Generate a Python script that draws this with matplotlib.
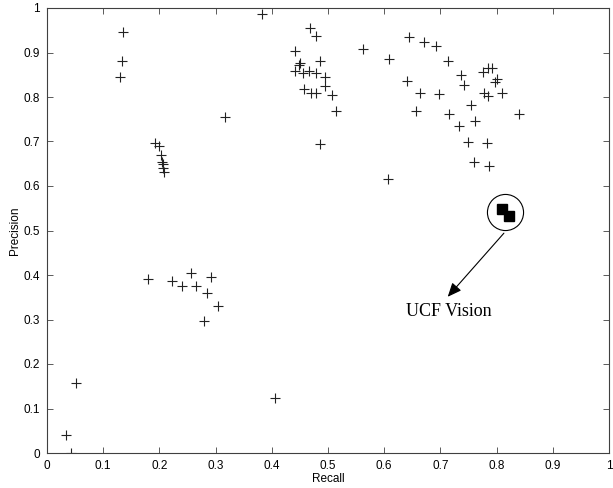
import numpy as np
import matplotlib
matplotlib.use('Agg')
import matplotlib.pyplot as plt
from matplotlib.ticker import FuncFormatter

# ================== データ ==================
# other methods (recall, precision)
recall = [
    0.382, 0.136, 0.134, 0.130, 0.468, 0.478, 0.441, 0.450, 0.448, 0.486,
    0.442, 0.455, 0.467, 0.478, 0.494, 0.494, 0.458, 0.470, 0.479, 0.507,
    0.515, 0.316, 0.486, 0.563, 0.608, 0.644, 0.670, 0.693, 0.713, 0.736,
    0.742, 0.641, 0.663, 0.698, 0.657, 0.716, 0.733, 0.749, 0.776, 0.784,
    0.791, 0.801, 0.798, 0.778, 0.784, 0.809, 0.755, 0.762, 0.840, 0.783,
    0.759, 0.786, 0.606,
    0.192, 0.199, 0.202, 0.205, 0.206, 0.207, 0.209,
    0.257, 0.292, 0.223, 0.241, 0.266, 0.284, 0.305, 0.279, 0.180,
    0.405, 0.051, 0.034, 0.042,
]
precision = [
    0.986, 0.945, 0.881, 0.846, 0.956, 0.937, 0.904, 0.877, 0.872, 0.881,
    0.858, 0.853, 0.858, 0.853, 0.846, 0.825, 0.817, 0.810, 0.810, 0.804,
    0.768, 0.756, 0.694, 0.907, 0.885, 0.934, 0.924, 0.914, 0.882, 0.849,
    0.828, 0.835, 0.808, 0.806, 0.768, 0.762, 0.734, 0.700, 0.857, 0.865,
    0.865, 0.840, 0.834, 0.808, 0.803, 0.808, 0.782, 0.745, 0.761, 0.696,
    0.655, 0.645, 0.615,
    0.697, 0.690, 0.670, 0.655, 0.649, 0.641, 0.632,
    0.404, 0.396, 0.387, 0.375, 0.375, 0.360, 0.330, 0.296, 0.390,
    0.124, 0.158, 0.040, 0.000,
]

# UCF Vision
ucf_recall = [0.809, 0.822]
ucf_precision = [0.548, 0.533]

ucf_label = 'UCF Vision'
label_pos = (0.715, 0.317)
arrow_tip = (0.713, 0.351)
arrow_start = (0.813, 0.494)

ticks = np.arange(0, 1.01, 0.1)

# ================== プロット ==================
plt.rcParams['font.family'] = ['Liberation Sans', 'DejaVu Sans']

fig = plt.figure(figsize=(6.13, 4.88), dpi=100)
ax = fig.add_axes([47/613, 35/488, 562/613, 445/488])

ax.plot(recall, precision, linestyle='none', marker='+', markersize=6.5,
        markeredgewidth=0.8, color='#222222')
ax.plot(ucf_recall, ucf_precision, linestyle='none', marker='s', markersize=7.5,
        color='black')

# circle around UCF points
cx, cy = np.mean(ucf_recall), np.mean(ucf_precision)
ax.plot([cx], [cy], marker='o', markersize=26, markerfacecolor='none',
        markeredgecolor='black', markeredgewidth=0.8, linestyle='none')

ax.annotate('', xy=arrow_tip, xytext=arrow_start,
            arrowprops=dict(arrowstyle='-|>,head_length=0.7,head_width=0.3',
                            color='black', lw=0.8, shrinkA=0, shrinkB=0,
                            mutation_scale=12))
ax.text(*label_pos, ucf_label, ha='center', va='center', fontsize=13,
        family=['Liberation Serif', 'DejaVu Serif'])

ax.set_xlim(0, 1)
ax.set_ylim(0, 1)
ax.set_xticks(ticks)
ax.set_yticks(ticks)
fmt = FuncFormatter(lambda v, p: f'{v:g}')
ax.xaxis.set_major_formatter(fmt)
ax.yaxis.set_major_formatter(fmt)
ax.tick_params(direction='in', length=4, width=0.6, labelsize=8.5,
               top=True, right=True, color='#404040', pad=5)
for s in ax.spines.values():
    s.set_color('#404040')
    s.set_linewidth(0.8)

ax.set_xlabel('Recall', fontsize=8.5, labelpad=1)
ax.set_ylabel('Precision', fontsize=8.5, labelpad=2)

plt.savefig('out.png', dpi=100)
